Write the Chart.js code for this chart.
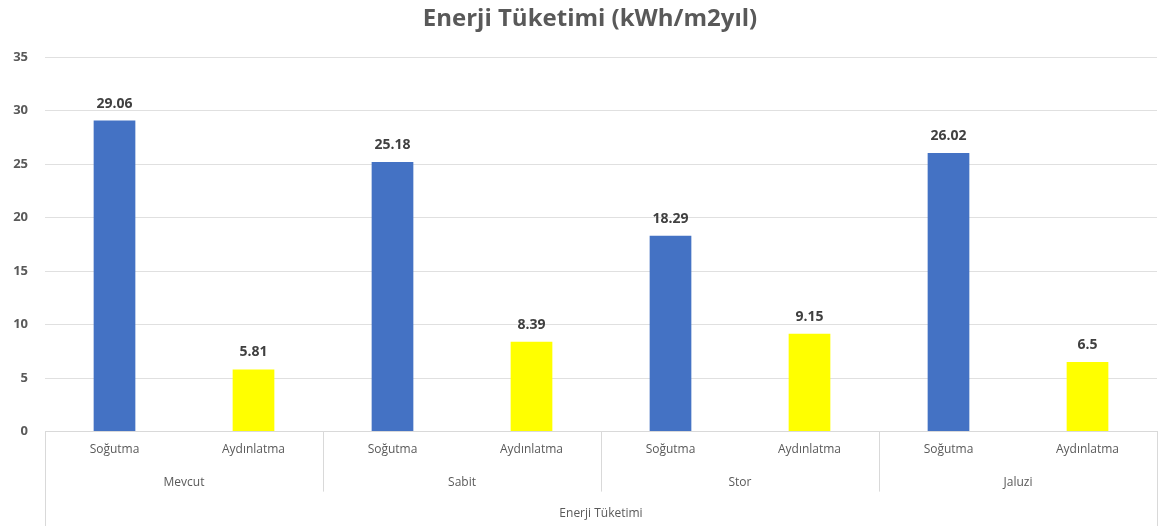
<!DOCTYPE html>
<html>
<head>
<meta charset="utf-8">
<script src="https://cdn.jsdelivr.net/npm/chart.js@4"></script>
<style>
  html, body { margin: 0; padding: 0; background: #fff; }
  #wrap { width: 1160px; height: 526px; }
</style>
</head>
<body>
<div id="wrap"><canvas id="c" width="1160" height="526"></canvas></div>
<script>
const groups = ['Mevcut', 'Sabit', 'Stor', 'Jaluzi'];
const subLabels = ['Soğutma', 'Aydınlatma'];
const sogutma = [29.06, 25.18, 18.29, 26.02];
const aydinlatma = [5.81, 8.39, 9.15, 6.5];
const outerLabel = 'Enerji Tüketimi';
const titleText = 'Enerji Tüketimi (kWh/m2yıl)';
const yMax = 35;
const yStep = 5;

const FONT = '"Open Sans", "DejaVu Sans", sans-serif';

// one bar per (group, sub) pair
const labels = [];
const values = [];
const colors = [];
groups.forEach((g, i) => {
    labels.push(subLabels[0], subLabels[1]);
    values.push(sogutma[i], aydinlatma[i]);
    colors.push('#4472C4', '#FFFF00');
});

// title drawn by hand, Excel puts it a bit right of centre
const chartTitle = {
    id: 'chartTitle',
    afterDraw(chart) {
        const ctx = chart.ctx;
        ctx.save();
        ctx.font = 'bold 24px ' + FONT;
        ctx.fillStyle = '#595959';
        ctx.textAlign = 'center';
        ctx.textBaseline = 'middle';
        ctx.fillText(titleText, 590, 19);
        ctx.restore();
    }
};

const valueLabels = {
    id: 'valueLabels',
    afterDatasetsDraw(chart) {
        const ctx = chart.ctx;
        const meta = chart.getDatasetMeta(0);
        ctx.save();
        ctx.font = 'bold 14px ' + FONT;
        ctx.fillStyle = '#404040';
        ctx.textAlign = 'center';
        ctx.textBaseline = 'bottom';
        meta.data.forEach((bar, i) => {
            ctx.fillText(String(values[i]), bar.x, bar.y - 10);
        });
        ctx.restore();
    }
};

const groupAxis = {
    id: 'groupAxis',
    afterDraw(chart) {
        const ctx = chart.ctx;
        const x = chart.scales.x;
        const area = chart.chartArea;
        const step = x.getPixelForValue(1) - x.getPixelForValue(0);
        const bottom = area.bottom;
        ctx.save();
        ctx.strokeStyle = '#d9d9d9';
        ctx.lineWidth = 1;
        // separators between groups
        for (let i = 0; i <= groups.length; i++) {
            const px = Math.round(x.getPixelForValue(i * 2) - step / 2) + 0.5;
            const outer = (i === 0 || i === groups.length);
            ctx.beginPath();
            ctx.moveTo(px, bottom);
            ctx.lineTo(px, outer ? chart.height : bottom + 60);
            ctx.stroke();
        }
        ctx.font = '12px ' + FONT;
        ctx.fillStyle = '#595959';
        ctx.textAlign = 'center';
        ctx.textBaseline = 'middle';
        groups.forEach((g, i) => {
            const cx = (x.getPixelForValue(i * 2) + x.getPixelForValue(i * 2 + 1)) / 2;
            ctx.fillText(g, cx, bottom + 51);
        });
        ctx.fillText(outerLabel, (area.left + area.right) / 2, bottom + 82);
        ctx.restore();
    }
};

new Chart(document.getElementById('c'), {
    type: 'bar',
    data: {
        labels: labels,
        datasets: [{
            data: values,
            backgroundColor: colors,
            borderWidth: 0,
            categoryPercentage: 1,
            barPercentage: 0.3
        }]
    },
    options: {
        responsive: false,
        animation: false,
        layout: { padding: { left: 0, right: 3, top: 57, bottom: 58 } },
        plugins: {
            legend: { display: false },
            tooltip: { enabled: false },
            title: { display: false }
        },
        scales: {
            x: {
                grid: { display: false, drawTicks: false },
                border: { display: true, color: '#d9d9d9' },
                ticks: {
                    color: '#595959',
                    font: { family: FONT, size: 12 },
                    padding: 11,
                    maxRotation: 0,
                    autoSkip: false
                }
            },
            y: {
                min: 0,
                max: yMax,
                afterFit(scale) { scale.width = 45; },
                grid: { color: '#e0e0e0', drawTicks: false },
                border: { display: false },
                ticks: {
                    stepSize: yStep,
                    color: '#595959',
                    font: { family: FONT, size: 13, weight: 'bold' },
                    padding: 17
                }
            }
        }
    },
    plugins: [valueLabels, groupAxis, chartTitle]
});
</script>
</body>
</html>
